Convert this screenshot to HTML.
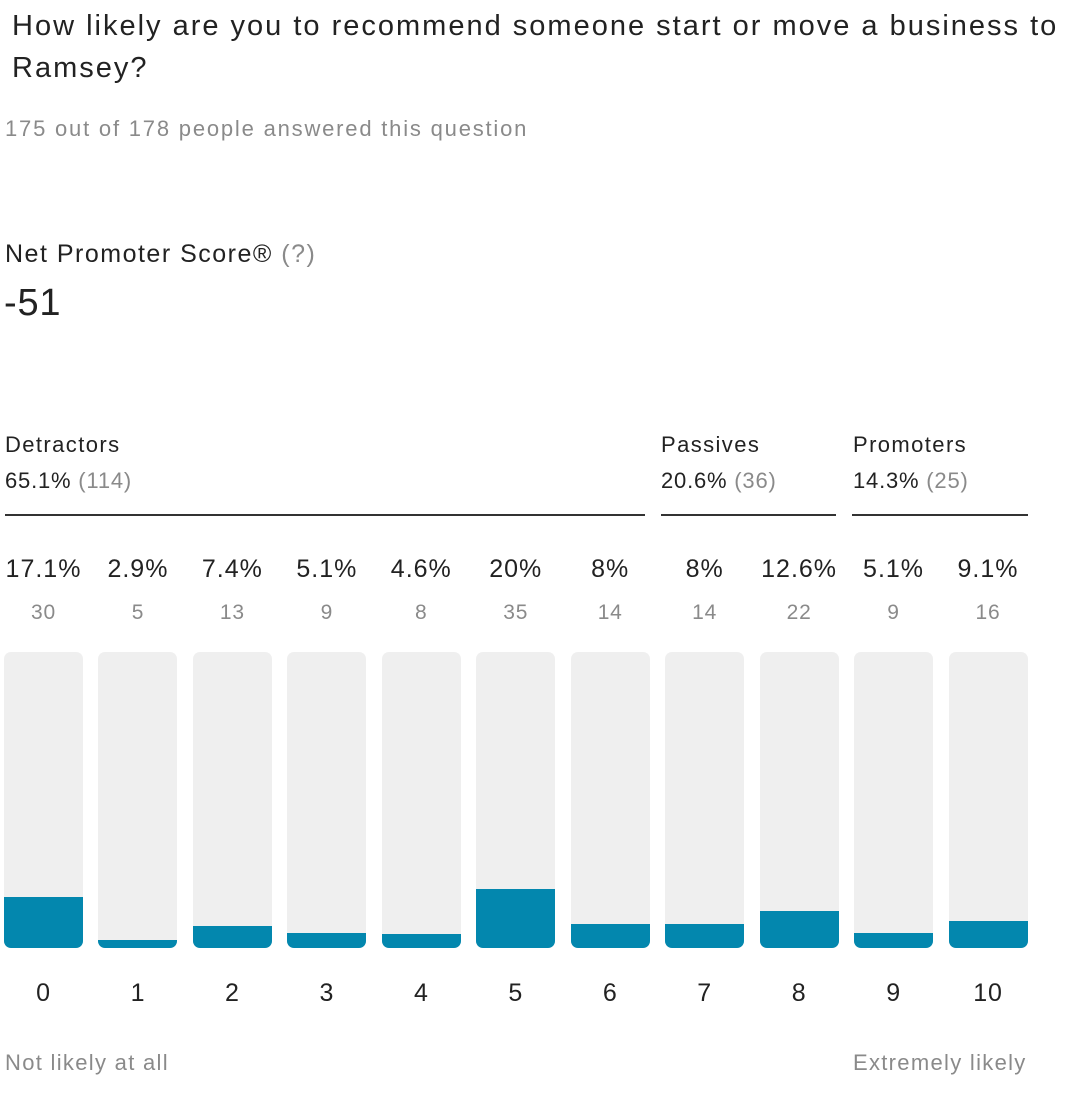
<!DOCTYPE html>
<html><head><meta charset="utf-8"><style>
body{margin:0;width:1076px;height:1108px;background:#fff;font-family:"Liberation Sans",Arial,sans-serif;position:relative;overflow:hidden;color:#222;letter-spacing:0.05em}
.a{position:absolute;white-space:nowrap}
.g{color:#8a8a8a}
.line{position:absolute;height:2px;background:#333;top:514px}
</style></head><body>
<div class="a" style="left:12px;top:5px;font-size:29px;line-height:42px;letter-spacing:2px">How likely are you to recommend someone start or move a business to<br>Ramsey?</div>
<div class="a g" style="left:5px;top:116px;font-size:22px;letter-spacing:1.8px">175 out of 178 people answered this question</div>
<div class="a" style="left:5px;top:240px;font-size:25px;letter-spacing:1.5px">Net Promoter Score® <span class="g">(?)</span></div>
<div class="a" style="left:4px;top:282px;font-size:38px">-51</div>
<div class="a" style="left:5px;top:432px;font-size:22px;letter-spacing:1.4px">Detractors</div>
<div class="a" style="left:5px;top:468px;font-size:22px">65.1% <span class="g">(114)</span></div>
<div class="a" style="left:661px;top:432px;font-size:22px;letter-spacing:1.4px">Passives</div>
<div class="a" style="left:661px;top:468px;font-size:22px">20.6% <span class="g">(36)</span></div>
<div class="a" style="left:853px;top:432px;font-size:22px;letter-spacing:1.4px">Promoters</div>
<div class="a" style="left:853px;top:468px;font-size:22px">14.3% <span class="g">(25)</span></div>
<div class="line" style="left:5px;width:640px"></div>
<div class="line" style="left:661px;width:175px"></div>
<div class="line" style="left:852px;width:176px"></div>
<div id="chart"></div>
<div class="a g" style="left:5px;top:1050px;font-size:22px;letter-spacing:1.3px">Not likely at all</div>
<div class="a g" style="left:853px;top:1050px;font-size:22px;letter-spacing:1.3px">Extremely likely</div>
<script>
const categories=["0","1","2","3","4","5","6","7","8","9","10"];
const counts=[30,5,13,9,8,35,14,14,22,9,16];
const percents=["17.1%","2.9%","7.4%","5.1%","4.6%","20%","8%","8%","12.6%","5.1%","9.1%"];
const total=175;
const chart=document.getElementById('chart');
const x0=4,pitch=94.45,bw=79,trackTop=652,trackBot=948,trackH=trackBot-trackTop;
function xs(i){return x0+i*pitch;}
function ys(v){return trackH*v/total;}
categories.forEach((c,i)=>{
  const cx=xs(i)+bw/2;
  const p=document.createElement('div');p.className='a';
  
  
  p.style.cssText=`left:${cx-60}px;width:120px;text-align:center;top:555px;font-size:25px;letter-spacing:1px`;
  p.textContent=percents[i];chart.appendChild(p);
  const n=document.createElement('div');n.className='a g';
  
  
  n.style.cssText=`left:${cx-60}px;width:120px;text-align:center;top:601px;font-size:21px`;
  n.textContent=counts[i];chart.appendChild(n);
  const t=document.createElement('div');t.className='a';
  
  
  t.style.cssText=`left:${xs(i)}px;top:${trackTop}px;width:${bw}px;height:${trackH}px;background:#efefef;border-radius:7px;overflow:hidden`;
  const f=document.createElement('div');
  
  
  f.style.cssText=`position:absolute;left:0;bottom:0;width:100%;height:${ys(counts[i])}px;background:#0387ae`;
  t.appendChild(f);chart.appendChild(t);
  const l=document.createElement('div');l.className='a';
  
  
  l.style.cssText=`left:${cx-40}px;width:80px;text-align:center;top:979px;font-size:25px`;
  l.textContent=c;chart.appendChild(l);
});
</script>
</body></html>
